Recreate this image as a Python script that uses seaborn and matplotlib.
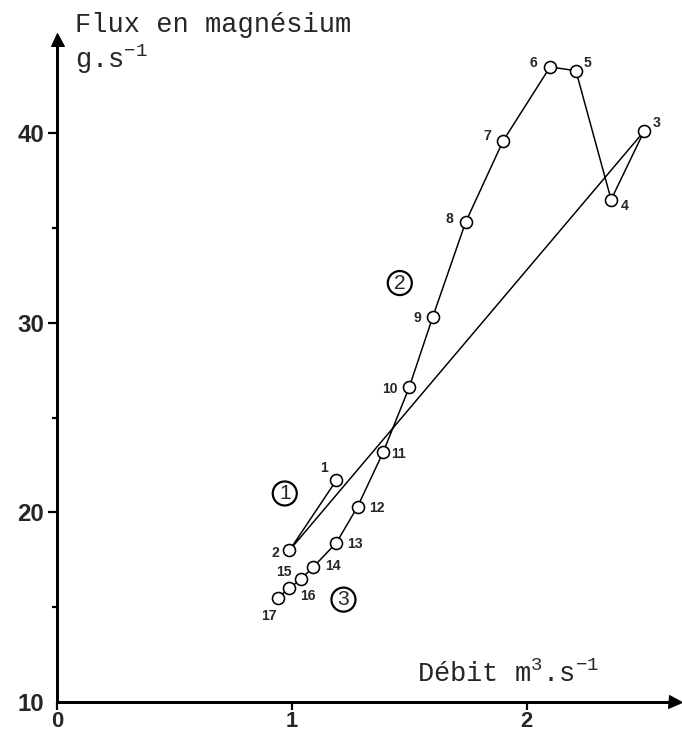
import matplotlib
matplotlib.use("Agg")
import matplotlib.pyplot as plt
import pandas as pd
import seaborn as sns

# Valeurs : débit (m3/s) et flux en magnésium (g/s)
points = list(range(1, 18))
debit = [1.19, 0.99, 2.50, 2.36, 2.21, 2.10, 1.90, 1.74, 1.60, 1.50,
         1.39, 1.28, 1.19, 1.09, 1.04, 0.99, 0.94]
flux = [21.7, 18.0, 40.1, 36.5, 43.3, 43.5, 39.6, 35.3, 30.3, 26.6,
        23.2, 20.3, 18.4, 17.1, 16.5, 16.0, 15.5]

# Phases de la crue (cercles numérotés)
phases = ["1", "2", "3"]
phase_debit = [0.97, 1.46, 1.22]
phase_flux = [21.0, 32.1, 15.4]

x_ticks = [0, 1, 2]
y_ticks = [10, 20, 30, 40]
y_minor = [15, 25, 35]

df = pd.DataFrame({"point": points, "debit": debit, "flux": flux})

# Style
sns.set_style("ticks")
plt.rcParams["font.family"] = ["Liberation Sans", "DejaVu Sans"]
plt.rcParams["mathtext.fontset"] = "custom"
plt.rcParams["mathtext.rm"] = "Liberation Mono"
plt.rcParams["mathtext.it"] = "Liberation Mono"

W, H = 682, 734
fig = plt.figure(figsize=(W / 72, H / 72), dpi=72)
ax = fig.add_axes([57 / W, 32 / H, 618 / W, 663.5 / H])

sns.lineplot(
    data=df, x="debit", y="flux", sort=False, estimator=None,
    color="black", linewidth=1.5, marker="o", markersize=12,
    markerfacecolor="white", markeredgecolor="black", markeredgewidth=1.6,
    ax=ax,
)

# numéros des points (décalage en points)
offsets = [(-12, 12), (-14, -3), (13, 8), (14, -6), (12, 8), (-17, 4),
           (-16, 5), (-16, 3), (-15, -1), (-19, -2), (15, -2), (19, -1),
           (19, -1), (20, 1), (-17, 7), (18, -8), (-9, -18)]
for p, x, y, off in zip(points, debit, flux, offsets):
    ax.annotate(str(p), (x, y), xytext=off, textcoords="offset points",
                ha="center", va="center", fontsize=14, fontweight="bold")

for lab, x, y in zip(phases, phase_debit, phase_flux):
    ax.text(x, y, lab, fontsize=21, ha="center", va="center",
            bbox=dict(boxstyle="circle,pad=0.12", fc="white", ec="black", lw=2.2))

ax.set_xlim(0, 618 / 234.8)
ax.set_ylim(10, 45)
ax.set_xticks(x_ticks)
ax.set_yticks(y_ticks)
ax.set_yticks(y_minor, minor=True)
ax.set_xticklabels([str(t) for t in x_ticks], fontweight="bold")
ax.set_yticklabels([str(t) for t in y_ticks], fontweight="bold")
ax.tick_params(which="major", length=9, width=2.2, labelsize=24, pad=4,
               color="black")
ax.tick_params(axis="x", which="major", length=8, labelsize=22, pad=1)
ax.tick_params(which="minor", length=5, width=2.2, color="black")
ax.yaxis.get_major_ticks()[0].tick1line.set_visible(False)
ax.set_xlabel("")
ax.set_ylabel("")

sns.despine(ax=ax)
for side in ["left", "bottom"]:
    ax.spines[side].set_linewidth(3)
    ax.spines[side].set_color("black")

# flèches au bout des axes
ax.plot(1, 0, ">", color="black", ms=13, transform=ax.transAxes, clip_on=False)
ax.plot(0, 1, "^", color="black", ms=13, transform=ax.transAxes, clip_on=False)

fig.text(75 / W, 1 - 32 / H, "Flux en magnésium", fontsize=27,
         family="Liberation Mono", va="baseline")
fig.text(75 / W, 1 - 68 / H, "g.s$^{-1}$", fontsize=27,
         family="Liberation Mono", va="baseline")
fig.text(417 / W, 1 - 682 / H, "Débit m$^{3}$.s$^{-1}$", fontsize=27,
         family="Liberation Mono", va="baseline")

fig.savefig("out.png", dpi=72)
